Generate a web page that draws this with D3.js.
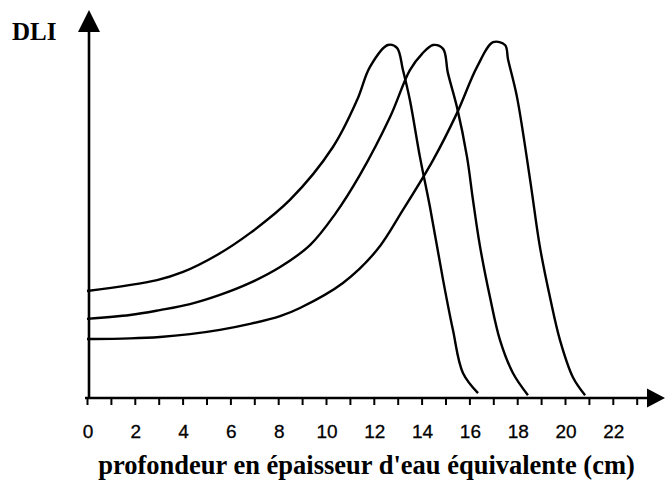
<!DOCTYPE html>
<html>
<head>
<meta charset="utf-8">
<script src="https://cdn.jsdelivr.net/npm/d3@7"></script>
<style>
  html, body { margin: 0; padding: 0; background: #fff; }
  svg { display: block; }
</style>
</head>
<body>
<svg id="chart" width="666" height="493"></svg>
<script>
// ---- data (relative DLI, peak = 100) ----
const xTickValues = [0,1,2,3,4,5,6,7,8,9,10,11,12,13,14,15,16,17,18,19,20,21,22,23];
const xTickLabels = ["0","2","4","6","8","10","12","14","16","18","20","22"];
const yLabel = "DLI";
const xLabel = "profondeur en épaisseur d'eau équivalente (cm)";

const depth1 = [0, 2.93, 4.02, 5.44, 6.82, 8.49, 10.29, 11.30, 11.84, 12.59, 12.97, 13.22, 13.51, 13.93, 14.35, 14.90, 15.31, 15.73, 16.36];
const dli1   = [30.3, 33.4, 35.7, 40.5, 46.7, 56.1, 71.1, 84.4, 93.8, 100, 99.2, 92.9, 84.4, 68.3, 54.1, 33.4, 19.3, 7.1, 1.4];

const depth2 = [0, 1.80, 3.05, 4.31, 5.56, 6.82, 8.08, 9.33, 10.38, 11.42, 12.68, 13.51, 14.02, 14.48, 14.90, 15.10, 15.48, 15.90, 16.15, 16.44, 16.86, 17.28, 17.82, 18.45];
const dli2   = [22.4, 23.5, 24.9, 26.6, 29.2, 32.6, 37.1, 43.3, 52.1, 63.2, 79.6, 92.9, 97.5, 100, 98.9, 92.1, 82.4, 68.3, 56.1, 43.1, 28.6, 16.4, 7.1, 0.8];

const depth3 = [0, 1.80, 3.05, 4.31, 5.56, 6.82, 8.08, 8.91, 10.71, 12.13, 13.22, 14.48, 15.48, 16.32, 16.99, 17.49, 17.62, 17.99, 18.54, 18.95, 19.37, 19.79, 20.33, 20.84];
const dli3   = [16.7, 16.9, 17.3, 18.1, 19.3, 21.0, 23.2, 25.5, 32.6, 41.9, 53.3, 67.4, 80.7, 93.8, 100.8, 100, 95.8, 85.3, 61.8, 42.8, 28.6, 16.4, 5.9, 0.8];

// ---- layout ----
const svg = d3.select("#chart");
const x = d3.scaleLinear().domain([0, 22]).range([87, 612.8]);
const y = d3.scaleLinear().domain([0, 100]).range([398, 45]);
const x0 = x(0), y0 = y(0);

// x axis line + arrow
svg.append("line").attr("x1", x0 - 2).attr("x2", 650).attr("y1", y0).attr("y2", y0)
  .attr("stroke", "#000").attr("stroke-width", 2.6);
svg.append("path").attr("d", `M 665 ${y0} L 647 ${y0 - 9.5} L 647 ${y0 + 9.5} Z`).attr("fill", "#000");

// y axis line + arrow
svg.append("line").attr("x1", x0 + 2).attr("x2", x0 + 2).attr("y1", y0).attr("y2", 30)
  .attr("stroke", "#000").attr("stroke-width", 2.6);
svg.append("path").attr("d", `M ${x0 + 2} 10 L ${x0 + 2 - 11} 32 L ${x0 + 2 + 11} 32 Z`).attr("fill", "#000");

// ticks (via d3 axis, no domain path)
const axisX = d3.axisBottom(x).tickValues(xTickValues).tickSize(7).tickFormat("");
const gx = svg.append("g").attr("transform", `translate(0,${y0})`).call(axisX);
gx.select(".domain").remove();
gx.selectAll(".tick line").attr("stroke", "#000").attr("stroke-width", 2);

// tick labels
svg.append("g").selectAll("text").data(xTickLabels).join("text")
  .attr("x", d => x(+d) + 1)
  .attr("y", 438)
  .attr("text-anchor", "middle")
  .attr("font-family", "'Liberation Sans', Arial, sans-serif")
  .attr("font-size", 19)
  .attr("fill", "#000")
  .attr("stroke", "#000").attr("stroke-width", 0.3)
  .text(d => d);

// curves
const line = d3.line().x(d => x(d[0])).y(d => y(d[1])).curve(d3.curveCatmullRom.alpha(0.5));
const series = [d3.zip(depth1, dli1), d3.zip(depth2, dli2), d3.zip(depth3, dli3)];
svg.append("g").selectAll("path").data(series).join("path")
  .attr("d", line)
  .attr("fill", "none")
  .attr("stroke", "#000")
  .attr("stroke-width", 2.4)
  .attr("stroke-linejoin", "round");

// labels
svg.append("text").attr("x", 12).attr("y", 40)
  .attr("font-family", "'Liberation Serif', 'Times New Roman', serif")
  .attr("font-weight", "bold").attr("font-size", 25).attr("fill", "#000")
  .text(yLabel);

svg.append("text").attr("x", 366.5).attr("y", 474)
  .attr("text-anchor", "middle")
  .attr("font-family", "'Liberation Serif', 'Times New Roman', serif")
  .attr("font-weight", "bold").attr("font-size", 26.5).attr("fill", "#000")
  .text(xLabel);
</script>
</body>
</html>
